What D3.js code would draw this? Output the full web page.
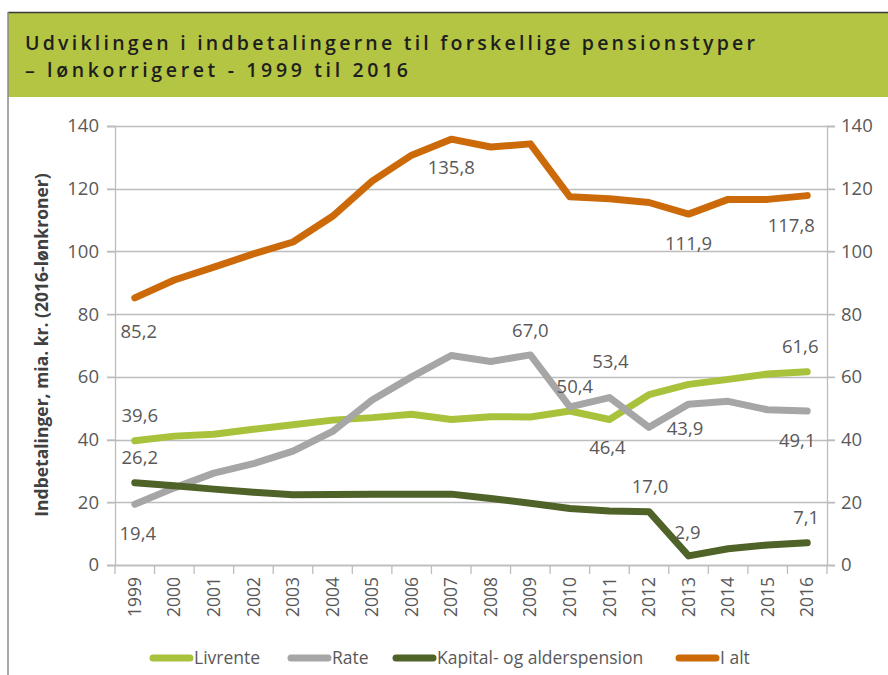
<!DOCTYPE html>
<html>
<head>
<meta charset="utf-8">
<script src="https://cdn.jsdelivr.net/npm/d3@7/dist/d3.min.js"></script>
<style>
  html, body { margin: 0; padding: 0; background: #fff; }
  svg { display: block; }
</style>
</head>
<body>
<svg id="chart" width="888" height="675"></svg>
<script>
const years = ["1999","2000","2001","2002","2003","2004","2005","2006","2007","2008","2009","2010","2011","2012","2013","2014","2015","2016"];
const livrente = [39.6,41.1,41.7,43.3,44.7,46.2,47.0,48.1,46.4,47.3,47.2,49.1,46.4,54.3,57.6,59.2,60.9,61.6];
const rate     = [19.4,24.6,29.3,32.3,36.3,42.6,52.6,60.0,66.8,64.9,67.0,50.4,53.4,43.9,51.3,52.2,49.5,49.1];
const kapital  = [26.2,25.3,24.2,23.2,22.4,22.5,22.6,22.6,22.6,21.2,19.7,18.0,17.2,17.0,2.9,5.2,6.4,7.1];
const ialt     = [85.2,90.9,95.0,99.2,103.0,111.2,122.4,130.7,135.8,133.3,134.3,117.4,116.8,115.6,111.9,116.6,116.6,117.8];
const yTicks = [0,20,40,60,80,100,120,140];
const seriesNames = ["Livrente","Rate","Kapital- og alderspension","I alt"];
const seriesColors = ["#a8c23c","#a6a6a6","#4f6228","#cc6a0a"];
const titleLines = ["Udviklingen i indbetalingerne til forskellige pensionstyper","– lønkorrigeret - 1999 til 2016"];
const yTitle = "Indbetalinger, mia. kr. (2016-lønkroner)";

// data labels: [seriesIndex, yearIndex, dx, dy]
const labels = [
  [3,0,4,34],[3,8,0,28],[3,14,0,29],[3,17,-16,30],
  [1,10,0,-24],[1,11,5,-20],[1,12,1,-36],[0,17,-7,-25],
  [0,0,5,-25],[2,0,5,-25],[1,0,3,29],[0,12,-2,28],
  [1,13,36,1],[1,17,-10,29],[2,13,1,-25],[2,14,-1,-23],[2,17,-1,-25]
];

const allSeries = [livrente, rate, kapital, ialt];
const svg = d3.select("#chart");
const W = 888, H = 675;
const M = {left:115, right:827, top:126, bottom:565};
const font = "'Open Sans', 'Noto Sans', sans-serif";

// frame + banner
svg.append("rect").attr("x",8).attr("y",12).attr("width",W-8).attr("height",85).attr("fill","#b4c443");
svg.append("line").attr("x1",8).attr("x2",W).attr("y1",12.5).attr("y2",12.5).attr("stroke","#3a3a3a").attr("stroke-width",1.5);
svg.append("line").attr("x1",8).attr("x2",8).attr("y1",12).attr("y2",H).attr("stroke","#8a8a8a").attr("stroke-width",1.5);

const titleWidths = [730, 383];
titleLines.forEach((t,i)=>{
  svg.append("text").attr("font-family","'Open Sans', sans-serif").attr("font-weight",600)
    .attr("font-size",19.5).attr("fill","#1e1e1e")
    .attr("x",25).attr("y",50+i*27)
    .attr("textLength",titleWidths[i]).attr("lengthAdjust","spacing")
    .text(t);
});

const x = d3.scaleBand().domain(years).range([M.left, M.right]);
const y = d3.scaleLinear().domain([0,140]).range([M.bottom, M.top]);

// gridlines
const grid = svg.append("g");
grid.selectAll("line").data(yTicks).join("line")
  .attr("x1",M.left-8).attr("x2",M.right+8)
  .attr("y1",d=>Math.round(y(d))+0.5).attr("y2",d=>Math.round(y(d))+0.5)
  .attr("stroke","#bdbdbd").attr("stroke-width",1.3);

// axes
const gl = svg.append("g").attr("transform",`translate(${M.left},0)`)
  .call(d3.axisLeft(y).tickValues(yTicks).tickSize(8).tickPadding(8));
const gr = svg.append("g").attr("transform",`translate(${M.right},0)`)
  .call(d3.axisRight(y).tickValues(yTicks).tickSize(8).tickPadding(6));
[gl,gr].forEach(g=>{
  g.select(".domain").attr("stroke","#bdbdbd").attr("stroke-width",1.3);
  g.selectAll(".tick line").attr("stroke","#bdbdbd").attr("stroke-width",1.3);
  g.selectAll("text").attr("font-family",font).attr("font-size",18.5).attr("fill","#595959");
});

// x axis with ticks at boundaries
const gx = svg.append("g").attr("transform",`translate(0,${M.bottom})`)
  .call(d3.axisBottom(x).tickSize(0).tickPadding(0));
gx.select(".domain").remove();
const bounds = d3.range(years.length+1).map(i=>M.left + i*x.step());
svg.append("g").selectAll("line").data(bounds).join("line")
  .attr("x1",d=>d).attr("x2",d=>d).attr("y1",M.bottom).attr("y2",M.bottom+9)
  .attr("stroke","#bdbdbd").attr("stroke-width",1.3);
svg.append("line").attr("x1",M.left).attr("x2",M.right).attr("y1",M.bottom+0.5).attr("y2",M.bottom+0.5)
  .attr("stroke","#bdbdbd").attr("stroke-width",1.3);
gx.selectAll("text").attr("font-family",font).attr("font-size",17.5).attr("fill","#595959")
  .attr("transform","rotate(-90)").attr("text-anchor","end").attr("dy","0.35em").attr("x",-12).attr("y",0);

// y title
svg.append("text").attr("transform",`translate(48,345) rotate(-90)`)
  .attr("text-anchor","middle").attr("font-family",font).attr("font-weight",700)
  .attr("font-size",17.5).attr("fill","#404040").text(yTitle);

// lines
const line = d3.line().x((d,i)=>x(years[i])+x.bandwidth()/2).y(d=>y(d));
allSeries.forEach((s,k)=>{
  svg.append("path").datum(s).attr("d",line).attr("fill","none")
    .attr("stroke",seriesColors[k]).attr("stroke-width",7).attr("stroke-linecap","round").attr("stroke-linejoin","round");
});

// data labels
svg.append("g").selectAll("text").data(labels).join("text")
  .attr("x",d=>x(years[d[1]])+x.bandwidth()/2+d[2])
  .attr("y",d=>y(allSeries[d[0]][d[1]])+d[3])
  .attr("dy","0.35em").attr("text-anchor","middle")
  .attr("font-family",font).attr("font-size",18.5).attr("fill","#595959")
  .text(d=>d3.format(".1f")(allSeries[d[0]][d[1]]).replace(".",","));

// legend
const legendX = [150,288,393,676];
const lg = svg.append("g");
seriesNames.forEach((n,k)=>{
  const g = lg.append("g").attr("transform",`translate(${legendX[k]},658)`);
  g.append("line").attr("x1",3).attr("x2",40).attr("y1",0).attr("y2",0)
    .attr("stroke",seriesColors[k]).attr("stroke-width",7).attr("stroke-linecap","round");
  g.append("text").attr("x",44).attr("y",0).attr("dy","0.35em")
    .attr("font-family",font).attr("font-size",17.5).attr("fill","#595959").text(n);
});
</script>
</body>
</html>
